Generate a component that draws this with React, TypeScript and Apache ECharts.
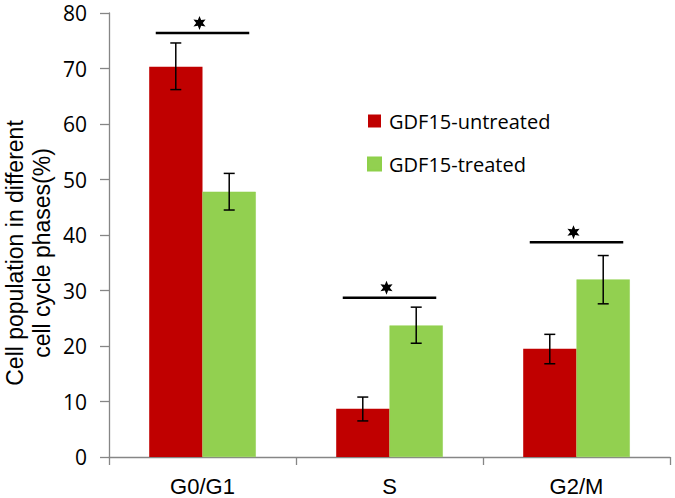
import React, { useEffect, useRef } from "react";
import * as echarts from "echarts";

const categories = ["G0/G1", "S", "G2/M"];
const untreated = [70.3, 8.7, 19.5];
const treated = [47.8, 23.7, 32.0];
const untreatedErrLow = [66.2, 6.5, 16.8];
const untreatedErrHigh = [74.6, 10.8, 22.1];
const treatedErrLow = [44.5, 20.5, 27.6];
const treatedErrHigh = [51.1, 27.0, 36.3];
const sigLineY = [76.4, 28.7, 38.7];
const yTicks = [0, 10, 20, 30, 40, 50, 60, 70, 80];
const yTitleLines = ["Cell population in different", "cell cycle phases(%)"];

const RED = "#C00000";
const GREEN = "#92D050";

export default function App() {
  const ref = useRef<HTMLDivElement>(null);
  useEffect(() => {
    if (!ref.current) return;
    document.body.style.margin = "0";
    const chart = echarts.init(ref.current, null, { renderer: "svg" });
    const barFrac = 0.2857;
    const errItem = (side: number) => (params: any, api: any) => {
      const cat = api.value(0);
      const lo = api.coord([cat, api.value(1)]);
      const hi = api.coord([cat, api.value(2)]);
      const bw = api.size([1, 0])[0] * barFrac;
      const x = lo[0] + side * bw / 2;
      const cap = 5.5;
      const st = { stroke: "#000", lineWidth: 1.5 };
      return {
        type: "group",
        children: [
          { type: "line", shape: { x1: x, y1: lo[1], x2: x, y2: hi[1] }, style: st },
          { type: "line", shape: { x1: x - cap, y1: lo[1], x2: x + cap, y2: lo[1] }, style: st },
          { type: "line", shape: { x1: x - cap, y1: hi[1], x2: x + cap, y2: hi[1] }, style: st },
        ],
      };
    };
    const sigItem = (params: any, api: any) => {
      const cat = api.value(0);
      const p = api.coord([cat, api.value(1)]);
      const cw = api.size([1, 0])[0];
      const half = cw * 0.25;
      const cx = p[0] - 3;
      const cy = p[1] - 10;
      const pts: number[][] = [];
      for (let i = 0; i < 12; i++) {
        const r = i % 2 === 0 ? 7 : 3.3;
        const a = -Math.PI / 2 + (i * Math.PI) / 6;
        pts.push([cx + r * Math.cos(a), cy + r * Math.sin(a)]);
      }
      return {
        type: "group",
        children: [
          {
            type: "line",
            shape: { x1: p[0] - half, y1: p[1], x2: p[0] + half, y2: p[1] },
            style: { stroke: "#000", lineWidth: 2.5 },
          },
          { type: "polygon", shape: { points: pts }, style: { fill: "#000" } },
        ],
      };
    };
    const titleStyle = {
      fontFamily: "Liberation Sans",
      fontSize: 23,
      fill: "#000",
      textAlign: "center",
      textVerticalAlign: "middle",
    };
    chart.setOption({
      animation: false,
      grid: {
        left: 109,
        right: 5,
        top: 13,
        bottom: 41,
        containLabel: false,
        outerBoundsMode: "none",
      },
      graphic: [
        {
          type: "text",
          x: 15,
          y: 253,
          rotation: Math.PI / 2,
          style: { ...titleStyle, text: yTitleLines[0] },
        },
        {
          type: "text",
          x: 42,
          y: 253,
          rotation: Math.PI / 2,
          style: { ...titleStyle, text: yTitleLines[1] },
        },
      ],
      legend: {
        data: ["GDF15-untreated", "GDF15-treated"],
        orient: "vertical",
        left: 362,
        top: 106,
        itemWidth: 13,
        itemHeight: 13,
        itemGap: 23,
        icon: "rect",
        textStyle: {
          fontFamily: "Open Sans",
          fontSize: 20,
          color: "#000",
          padding: [0, 0, 0, 3],
        },
      },
      xAxis: {
        type: "category",
        data: categories,
        axisLine: { lineStyle: { color: "#868686", width: 1.3 } },
        axisTick: { show: true, length: 8, lineStyle: { color: "#868686", width: 1.3 } },
        axisLabel: { fontFamily: "Liberation Sans", fontSize: 22, color: "#000", margin: 18 },
      },
      yAxis: {
        type: "value",
        min: 0,
        max: 80,
        interval: 10,
        axisLine: { show: true, lineStyle: { color: "#868686", width: 1.3 } },
        axisTick: { show: true, length: 9, lineStyle: { color: "#868686", width: 1.3 } },
        splitLine: { show: false },
        axisLabel: {
          fontFamily: "Open Sans",
          fontSize: 21,
          color: "#000",
          margin: 22,
          formatter: (v: number) => (yTicks.includes(v) ? String(v) : ""),
        },
      },
      series: [
        {
          name: "GDF15-untreated",
          type: "bar",
          data: untreated,
          barGap: "0%",
          barCategoryGap: "43%",
          itemStyle: { color: RED },
        },
        {
          name: "GDF15-treated",
          type: "bar",
          data: treated,
          barGap: "0%",
          barCategoryGap: "43%",
          itemStyle: { color: GREEN, borderColor: "#8ED04A", borderWidth: 0.5 },
        },
        {
          type: "custom",
          renderItem: errItem(-1),
          data: categories.map((_, i) => [i, untreatedErrLow[i], untreatedErrHigh[i]]),
          z: 5,
        },
        {
          type: "custom",
          renderItem: errItem(1),
          data: categories.map((_, i) => [i, treatedErrLow[i], treatedErrHigh[i]]),
          z: 5,
        },
        {
          type: "custom",
          renderItem: sigItem,
          data: categories.map((_, i) => [i, sigLineY[i]]),
          z: 5,
        },
      ],
    });
    return () => chart.dispose();
  }, []);
  return <div ref={ref} style={{ width: 675, height: 498 }} />;
}
